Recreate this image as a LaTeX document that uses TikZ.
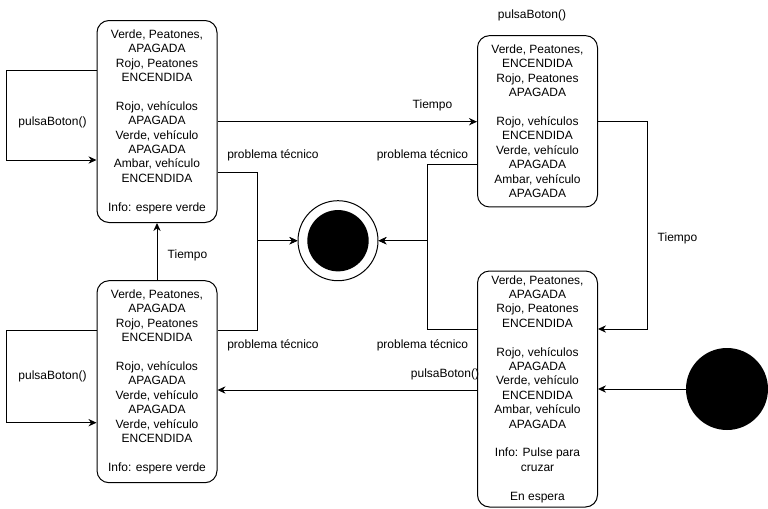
\documentclass[tikz,border=0pt]{standalone}
\usepackage{fontspec}
\setmainfont{Liberation Sans}
\usetikzlibrary{arrows.meta}
\usetikzlibrary{calc}

\begin{document}
\begin{tikzpicture}[x=0.75pt,y=-0.75pt,line width=0.75pt,
	estado/.style={draw, rounded corners=9pt, align=center, minimum width=90pt, inner sep=0pt,
		font=\fontsize{9pt}{10.8pt}\selectfont},
	flecha/.style={-{Stealth[length=6pt,width=5.5pt]}},
	etiqueta/.style={font=\fontsize{9pt}{10.8pt}\selectfont, inner sep=0pt}]
	\useasboundingbox (0,0) rectangle (768,508);
	%estados
	\node[estado, minimum height=151.5pt] (rojoPeat) at (157,121.5)
	{Verde, Peatones,\\ APAGADA\\ Rojo, Peatones\\ ENCENDIDA\\ \mbox{}\\
	 Rojo, vehículos\\ APAGADA\\ Verde, vehículo\\ APAGADA\\ Ambar, vehículo\\ ENCENDIDA\\ \mbox{}\\
	 Info: espere verde};
	\node[estado, minimum height=128.5pt] (verdePeat) at (537.5,121.3)
	{Verde, Peatones,\\ ENCENDIDA\\ Rojo, Peatones\\ APAGADA\\ \mbox{}\\
	 Rojo, vehículos\\ ENCENDIDA\\ Verde, vehículo\\ APAGADA\\ Ambar, vehículo\\ APAGADA};
	\node[estado, minimum height=151.5pt] (esperaVerde) at (157,381.7)
	{Verde, Peatones,\\ APAGADA\\ Rojo, Peatones\\ ENCENDIDA\\ \mbox{}\\
	 Rojo, vehículos\\ APAGADA\\ Verde, vehículo\\ APAGADA\\ Verde, vehículo\\ ENCENDIDA\\ \mbox{}\\
	 Info: espere verde};
	\node[estado, minimum height=177pt] (enEspera) at (537.5,389)
	{Verde, Peatones,\\ APAGADA\\ Rojo, Peatones\\ ENCENDIDA\\ \mbox{}\\
	 Rojo, vehículos\\ APAGADA\\ Verde, vehículo\\ ENCENDIDA\\ Ambar, vehículo\\ APAGADA\\ \mbox{}\\
	 Info: Pulse para\\ cruzar\\ \mbox{}\\ En espera};
	%inicio y fin
	\node[circle, fill=black, minimum size=61.5pt, inner sep=0pt] (inicio) at (727,389) {};
	\node[circle, draw, minimum size=60pt, inner sep=0pt] (fin) at (338,240.7) {};
	\fill (fin.center) circle (23pt);
	%transiciones
	\draw[flecha] (rojoPeat.west |- 0,70.7) -- ++(-90,0) |- (rojoPeat.west |- 0,160);
	\draw[flecha] (esperaVerde.west |- 0,330.7) -- ++(-90,0) |- (esperaVerde.west |- 0,422.7);
	\draw[flecha] (rojoPeat.east |- 0,121.7) -- (verdePeat.west |- 0,121.7);
	\draw[flecha] (verdePeat.east |- 0,121.7) -- ++(49.5,0) |- (enEspera.east |- 0,329);
	\draw[flecha] (esperaVerde.north) -- (rojoPeat.south);
	\draw[flecha] (enEspera.west |- 0,390) -- (esperaVerde.east |- 0,390);
	\draw[flecha] (inicio.west) -- (enEspera.east |- inicio.west);
	%problema tecnico
	\draw[flecha] (rojoPeat.east |- 0,172.7) -- ++(40,0) |- (fin.west);
	\draw[flecha] (esperaVerde.east |- 0,330) -- ++(40,0) |- (fin.west);
	\draw[flecha] (verdePeat.west |- 0,164.3) -- ++(-50,0) |- (fin.east);
	\draw[flecha] (enEspera.west |- 0,329.3) -- ++(-50,0) |- (fin.east);
	%etiquetas
	\node[etiqueta] (lPulsa1) at (52.5,122.7) {pulsaBoton()};
	\node[etiqueta] (lPulsa2) at (52.5,376.7) {pulsaBoton()};
	\node[etiqueta] (lPulsa3) at (445,374) {pulsaBoton()};
	\node[etiqueta] (lPulsa4) at (532,15) {pulsaBoton()};
	\node[etiqueta] (lTiempo1) at (432.5,105) {Tiempo};
	\node[etiqueta] (lTiempo2) at (677.5,238) {Tiempo};
	\node[etiqueta] (lTiempo3) at (187.5,255) {Tiempo};
	\node[etiqueta] (lProb1) at (273,155) {problema técnico};
	\node[etiqueta] (lProb2) at (422.5,155) {problema técnico};
	\node[etiqueta] (lProb3) at (273,345) {problema técnico};
	\node[etiqueta] (lProb4) at (422.5,345) {problema técnico};
\end{tikzpicture}
\end{document}
